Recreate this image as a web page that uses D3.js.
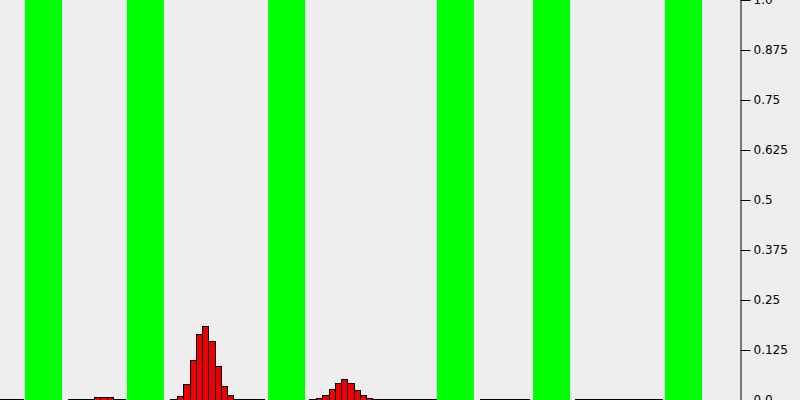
<!DOCTYPE html>
<html>
<head>
<meta charset="utf-8">
<script src="https://cdn.jsdelivr.net/npm/d3@7"></script>
<style>
  html, body { margin: 0; padding: 0; background: #eeeeee; }
  svg { display: block; }
</style>
</head>
<body>
<svg id="chart" width="800" height="400"></svg>
<script>
// ---- data (time units; one histogram bin = 1 unit) ----
const blockStarts = [4.0, 20.3, 42.9, 69.9, 85.3, 106.4];
const blockLength = 5.92;

const segmentStarts = [0.0, 10.88, 27.2, 49.44, 76.8, 92.0];
const segmentEnds   = [3.84, 20.16, 42.4, 69.92, 84.8, 106.08];
const binStarts     = [null, 15.04, 28.32, 50.56, null, null];
const binValues = [
  [],
  [0.007, 0.007, 0.007],
  [0.01, 0.04, 0.10, 0.165, 0.185, 0.1475, 0.085, 0.035, 0.0125],
  [0.005, 0.0125, 0.0275, 0.0425, 0.0525, 0.0425, 0.025, 0.0125, 0.005],
  [],
  []
];
const tickValues = [0, 0.125, 0.25, 0.375, 0.5, 0.625, 0.75, 0.875, 1.0];
const tickLabels = ["0.0", "0.125", "0.25", "0.375", "0.5", "0.625", "0.75", "0.875", "1.0"];

// ---- scales ----
const W = 800, H = 400;
const x = d3.scaleLinear().domain([0, 128]).range([0, W]);
const y = d3.scaleLinear().domain([0, 1]).range([H, 0]);

const svg = d3.select("#chart");
svg.append("rect").attr("width", W).attr("height", H).attr("fill", "#eeeeee");

// green blocks
svg.append("g").selectAll("rect").data(blockStarts).join("rect")
  .attr("x", d => x(d))
  .attr("y", y(1))
  .attr("width", x(blockLength) - x(0))
  .attr("height", y(0) - y(1))
  .attr("fill", "#00ff00");

// baselines
svg.append("g").selectAll("line").data(segmentStarts).join("line")
  .attr("x1", d => x(d))
  .attr("x2", (d, i) => x(segmentEnds[i]))
  .attr("y1", y(0) - 0.5)
  .attr("y2", y(0) - 0.5)
  .attr("stroke", "#000")
  .attr("stroke-width", 1);

// histogram bars
const bins = [];
binValues.forEach((vals, s) => {
  vals.forEach((v, i) => bins.push({ x0: binStarts[s] + i, x1: binStarts[s] + i + 1, v }));
});
svg.append("g").selectAll("rect").data(bins).join("rect")
  .attr("x", d => Math.round(x(d.x0)) + 0.5)
  .attr("y", d => Math.round(y(d.v)) + 0.5)
  .attr("width", d => Math.round(x(d.x1)) - Math.round(x(d.x0)))
  .attr("height", d => Math.max(0, Math.round(y(0)) - Math.round(y(d.v))))
  .attr("fill", "#ee0000")
  .attr("stroke", "#000")
  .attr("stroke-width", 1);

// right axis
const axis = d3.axisRight(y)
  .tickValues(tickValues)
  .tickFormat((d, i) => tickLabels[i])
  .tickSize(10)
  .tickSizeOuter(0)
  .tickPadding(3);
const gAxis = svg.append("g")
  .attr("transform", `translate(${740.5},0)`)
  .call(axis);
gAxis.selectAll("text")
  .attr("font-family", "DejaVu Sans")
  .attr("font-size", 12)
  .attr("fill", "#000");
gAxis.selectAll("line, path").attr("stroke", "#000");
</script>
</body>
</html>
